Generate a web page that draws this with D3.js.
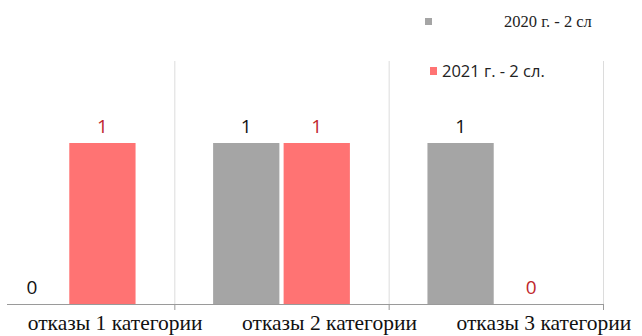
<!DOCTYPE html>
<html>
<head>
<meta charset="utf-8">
<script src="https://cdn.jsdelivr.net/npm/d3@7"></script>
<style>
  body { margin: 0; background: #fff; }
</style>
</head>
<body>
<div id="chart"></div>
<script>
const categories = ["отказы 1 категории", "отказы 2 категории", "отказы 3 категории"];
const seriesNames = ["2020 г. - 2 сл", "2021 г. - 2 сл."];
const values2020 = [0, 1, 1];
const values2021 = [1, 1, 0];

const width = 642, height = 336;
const barColors = ["#a5a5a5", "#ff7373"];
const labelColors = ["#111", "#c0272d"];

const svg = d3.select("#chart")
    .append("svg")
    .attr("width", width)
    .attr("height", height);

const x = d3.scaleBand()
    .domain(categories)
    .range([-40, 603]);

const xs = d3.scaleBand()
    .domain(seriesNames)
    .range([0, x.bandwidth()])
    .paddingInner(0.06)
    .paddingOuter(0.55);

const y = d3.scaleLinear()
    .domain([0, 1])
    .range([304, 143]);

// vertical separators between categories
const bounds = categories.slice(1).map(c => x(c)).concat([x.range()[1]]);
svg.append("g")
    .selectAll("line")
    .data(bounds)
    .join("line")
    .attr("x1", d => d + 0.5)
    .attr("x2", d => d + 0.5)
    .attr("y1", 61)
    .attr("y2", y(0))
    .attr("stroke", "#dcdcdc")
    .attr("stroke-width", 1);

const table = categories.map((c, i) => ({cat: c, vals: [values2020[i], values2021[i]]}));

const groups = svg.append("g")
    .selectAll("g")
    .data(table)
    .join("g")
    .attr("transform", d => `translate(${x(d.cat)},0)`);

groups.selectAll("rect")
    .data(d => d.vals.map((v, j) => ({s: seriesNames[j], v: v, j: j})))
    .join("rect")
    .attr("x", d => xs(d.s))
    .attr("width", xs.bandwidth())
    .attr("y", d => y(d.v))
    .attr("height", d => y(0) - y(d.v))
    .attr("fill", d => barColors[d.j]);

groups.selectAll("text")
    .data(d => d.vals.map((v, j) => ({s: seriesNames[j], v: v, j: j})))
    .join("text")
    .attr("x", d => xs(d.s) + xs.bandwidth() / 2)
    .attr("y", d => y(d.v) - 10)
    .attr("text-anchor", "middle")
    .attr("font-family", "'Open Sans', 'Noto Sans', sans-serif")
    .attr("font-size", 19)
    .attr("fill", d => labelColors[d.j])
    .text(d => d.v);

// x axis
svg.append("line")
    .attr("x1", 7)
    .attr("x2", x.range()[1])
    .attr("y1", y(0) + 0.5)
    .attr("y2", y(0) + 0.5)
    .attr("stroke", "#9a9a9a");

svg.append("g")
    .selectAll("line")
    .data(bounds)
    .join("line")
    .attr("x1", d => d + 0.5)
    .attr("x2", d => d + 0.5)
    .attr("y1", y(0))
    .attr("y2", y(0) + 6)
    .attr("stroke", "#9a9a9a");

svg.append("g")
    .selectAll("text")
    .data(categories)
    .join("text")
    .attr("x", d => x(d) + x.bandwidth() / 2 + 48)
    .attr("y", 330)
    .attr("text-anchor", "middle")
    .attr("font-family", "'Liberation Serif', 'DejaVu Serif', serif")
    .attr("font-size", 21.5)
    .attr("fill", "#111")
    .text(d => d);

// legend
const legend = svg.append("g");
legend.append("rect")
    .attr("x", 425).attr("y", 18).attr("width", 7).attr("height", 7)
    .attr("fill", barColors[0]);
legend.append("text")
    .attr("x", 504).attr("y", 27)
    .attr("font-family", "'Liberation Serif', serif")
    .attr("font-size", 16.5)
    .attr("fill", "#222")
    .text(seriesNames[0]);
legend.append("rect")
    .attr("x", 430).attr("y", 67).attr("width", 7).attr("height", 8)
    .attr("fill", barColors[1]);
legend.append("text")
    .attr("x", 442).attr("y", 77)
    .attr("font-family", "'Open Sans', 'Noto Sans', sans-serif")
    .attr("font-size", 16.5)
    .attr("fill", "#222")
    .text(seriesNames[1]);
</script>
</body>
</html>
